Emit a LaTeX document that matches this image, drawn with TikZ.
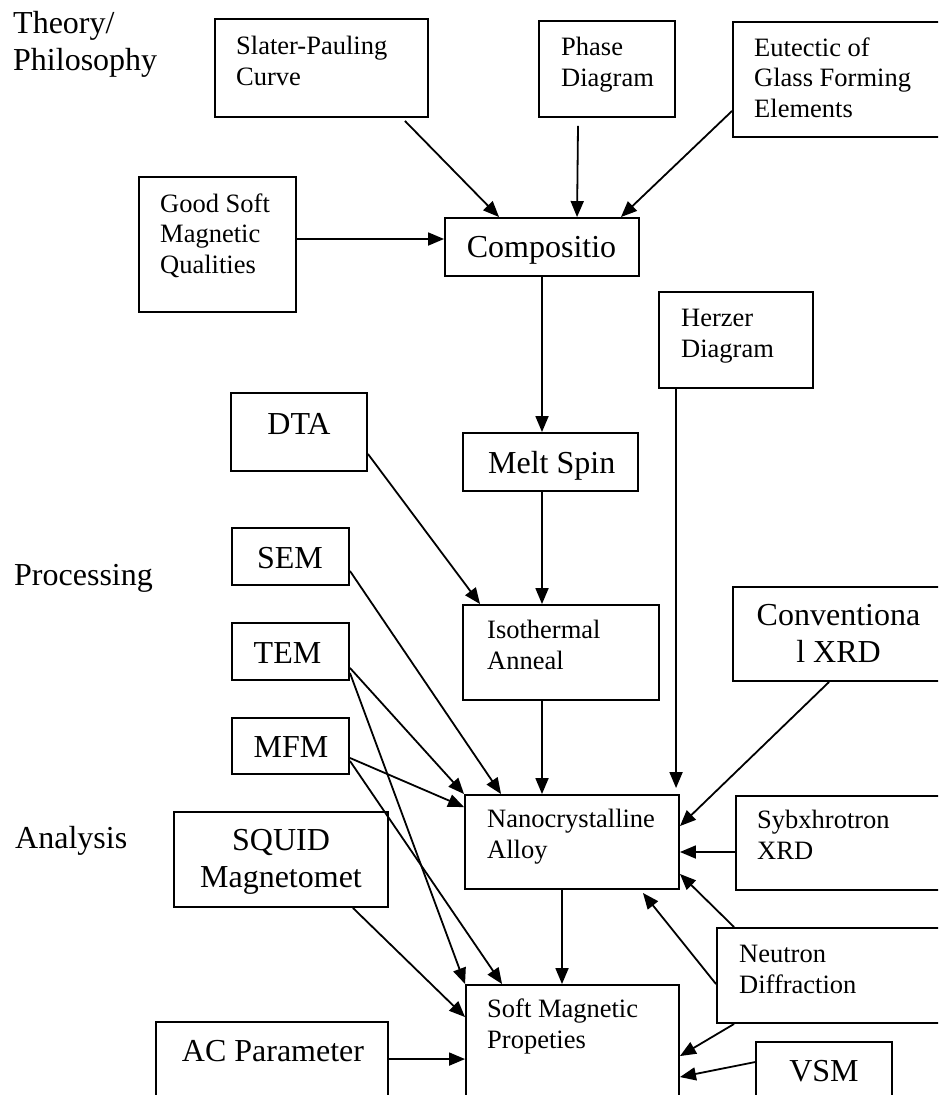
\documentclass[tikz,border=0pt]{standalone}
\usepackage{fontspec}
\setmainfont{Liberation Serif}
\usetikzlibrary{arrows.meta,calc}
\newcommand\bx[5]{\node[box, minimum width={#4-#2}, minimum height={#5-#3}] (#1) at ({(#2+#4)/2},{(#3+#5)/2}) {};}
\begin{document}
\begin{tikzpicture}[x=1pt,y=-1pt,
  box/.style={draw, line width=1.9pt, inner sep=0pt},
  sm/.style={font=\fontsize{26.5}{30.5}\selectfont, align=left, inner sep=0pt, anchor=base west},
  bgl/.style={font=\fontsize{32}{37}\selectfont, align=left, inner sep=0pt, anchor=base west},
  bg/.style={font=\fontsize{32}{36.5}\selectfont, align=center, inner sep=0pt, anchor=base},
  arr/.style={line width=1.8pt, -{Triangle[length=16pt,width=13pt]}}]
\clip (0,0) rectangle (938,1095);
\fill[white] (0,0) rectangle (938,1095);
% boxes
\bx{sp}{215}{19}{428}{117}
\bx{ph}{539}{21}{675}{117}
\bx{eu}{733}{22}{950}{137}
\bx{gs}{139}{177}{296}{312}
\bx{comp}{445}{218}{639}{276}
\bx{hz}{659}{292}{813}{388}
\bx{dta}{231}{393}{367}{471}
\bx{ms}{463}{433}{638}{491}
\bx{sem}{232}{528}{349}{585}
\bx{iso}{463}{605}{659}{700}
\bx{cx}{733}{587}{950}{681}
\bx{tem}{232}{623}{349}{680}
\bx{mfm}{232}{718}{349}{774}
\bx{nano}{465}{795}{679}{889}
\bx{syb}{736}{796}{950}{890}
\bx{squid}{174}{812}{388}{907}
\bx{neu}{717}{928}{950}{1023}
\bx{soft}{466}{985}{679}{1130}
\bx{ac}{156}{1022}{388}{1130}
\bx{vsm}{756}{1042}{892}{1130}
% row labels (base = last line)
\node[bgl] (t-theory) at (13,70) {Theory/\\Philosophy};
\node[bgl] (t-proc) at (14,585) {Processing};
\node[bgl] (t-ana) at (15,848) {Analysis};
% small texts
\node[sm] (sp-t) at (236,85) {Slater-Pauling\\Curve};
\node[sm] (ph-t) at (561,86) {Phase\\Diagram};
\node[sm] (eu-t) at (754,117) {Eutectic of\\Glass Forming\\Elements};
\node[sm] (gs-t) at (160,273) {Good Soft\\Magnetic\\Qualities};
\node[sm] (hz-t) at (681,357) {Herzer\\Diagram};
\node[sm] (iso-t) at (487,669) {Isothermal\\Anneal};
\node[sm] (nano-t) at (487,858) {Nanocrystalline\\Alloy};
\node[sm] (syb-t) at (757,859) {Sybxhrotron\\XRD};
\node[sm] (neu-t) at (739,993) {Neutron\\Diffraction};
\node[sm] (soft-t) at (487,1048) {Soft Magnetic\\Propeties};
% big texts
\node[bg] (comp-t) at (541.5,257) {Compositio};
\node[bg] (ms-t) at (551.7,473) {Melt Spin};
\node[bg] (dta-t) at (299,434) {DTA};
\node[bg] (sem-t) at (290,568) {SEM};
\node[bg] (tem-t) at (287.5,663) {TEM};
\node[bg] (mfm-t) at (291,757) {MFM};
\node[bg] (squid-t) at (281,887) {SQUID\\Magnetomet};
\node[bg] (cx-t) at (838.5,662) {Conventiona\\l XRD};
\node[bg] (ac-t) at (273,1061) {AC Parameter};
\node[bg] (vsm-t) at (824,1081) {VSM};
% connectors
\draw[arr] ([xshift=-24pt,yshift=-3pt]sp.south east) -- ([xshift=55pt]comp.north west);
\draw[arr] ([xshift=-29pt,yshift=-8pt]ph.south) -- ([xshift=133pt]comp.north west);
\draw[arr] ([yshift=27pt]eu.south west) -- ([xshift=-19pt]comp.north east);
\draw[arr] ([yshift=5.5pt]gs.east) -- ([yshift=8pt]comp.west);
\draw[arr] (comp.south) -- (comp.south |- ms.north);
\draw[arr] (comp.south |- ms.south) -- (comp.south |- iso.north);
\draw[arr] ([yshift=18pt]dta.south east) -- ([xshift=18pt]iso.north west);
\draw[arr] (comp.south |- iso.south) -- (comp.south |- nano.north);
\draw[arr] ([xshift=18pt]hz.south west) -- ($(hz.south west |- nano.north)+(18,-6)$);
\draw[arr] ([yshift=15pt]sem.south east) -- ([xshift=37pt]nano.north west);
\draw[arr] ([yshift=13pt]tem.south east) -- (nano.north west);
\draw[arr] ([yshift=8pt]tem.south east) -- (soft.north west);
\draw[arr] ([yshift=17pt]mfm.south east) -- ([yshift=-13pt]nano.north west);
\draw[arr] ([yshift=14pt]mfm.south east) -- ([xshift=37pt]soft.north west);
\draw[arr] ([xshift=97pt]cx.south west) -- ([yshift=-32pt]nano.north east);
\draw[arr] ([yshift=-9pt]syb.west) -- ([yshift=-9pt]syb.west -| nano.east);
\draw[arr] ([xshift=18pt]neu.north west) -- ([yshift=16pt]nano.south east);
\draw[arr] ([yshift=-57pt]neu.north west) -- ([xshift=-37pt,yshift=-3pt]nano.south east);
\draw[arr] ([xshift=18pt]neu.south west) -- ([yshift=-72pt]soft.north east);
\draw[arr] ([xshift=-10pt]nano.south) -- ([xshift=-10pt]nano.south |- soft.north);
\draw[arr] ([xshift=-36pt]squid.south east) -- ([yshift=-33pt]soft.north west);
\draw[arr] ([yshift=-38pt]ac.north east) -- ([yshift=-38pt]ac.north east -| soft.west);
\draw[arr] ([yshift=-21pt]vsm.north west) -- ([yshift=-93pt]soft.north east);
\end{tikzpicture}
\end{document}
